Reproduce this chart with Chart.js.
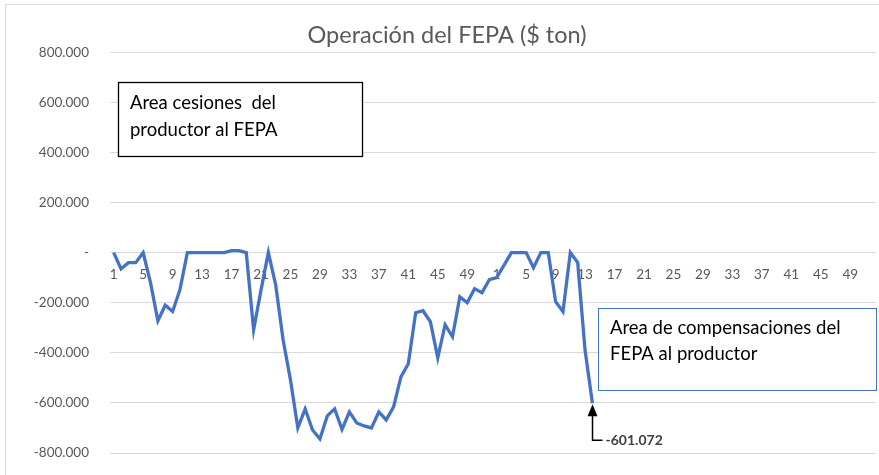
<!DOCTYPE html>
<html>
<head>
<meta charset="utf-8">
<script src="https://cdn.jsdelivr.net/npm/chart.js@4.4.1/dist/chart.umd.min.js"></script>
<style>
  html, body { margin: 0; padding: 0; background: #fff; }
  #wrap { width: 879px; height: 475px; position: relative; }
</style>
</head>
<body>
<div id="wrap"><canvas id="chart" width="879" height="475"></canvas></div>
<script>
// semanas del año, dos temporadas seguidas
const weeks = [1, 2, 3, 4, 5, 6, 7, 8, 9, 10, 11, 12, 13, 14, 15, 16, 17, 18, 19, 20, 21, 22, 23, 24, 25, 26,
  27, 28, 29, 30, 31, 32, 33, 34, 35, 36, 37, 38, 39, 40, 41, 42, 43, 44, 45, 46, 47, 48, 49, 50, 51, 52];
const labels = weeks.concat(weeks);

// operación del FEPA ($/ton), año 1
const fepaYear1 = [
  0, -65000, -40000, -40000, 0, -120000, -272000, -210000, -235000, -148000,
  0, 0, 0, 0, 0, 0, 8000, 8000, 0, -308000,
  -150000, 0, -130000, -348000, -508000, -700000, -624000, -708000, -744000, -652000,
  -624000, -706000, -636000, -680000, -692000, -700000, -636000, -668000, -616000, -496000,
  -444000, -240000, -232000, -276000, -420000, -288000, -336000, -176000, -200000, -144000,
  -160000, -108000
];
// año 2 (hasta la semana 14)
const fepaYear2 = [
  -100000, -50000, 0, 0, 0, -60000, 0, 0, -196000, -236000,
  0, -40000, -390000, -601072
];

const yTicks = [800000, 600000, 400000, 200000, 0, -200000, -400000, -600000, -800000];
const lastLabel = '-601.072';

const series = fepaYear1.concat(fepaYear2);
while (series.length < labels.length) series.push(null);

function fmt(v) {
  if (v === 0) return '-';
  const s = Math.abs(v).toString().replace(/\B(?=(\d{3})+(?!\d))/g, '.');
  return (v < 0 ? '-' : '') + s;
}

const FONT = 'Lato, "Open Sans", sans-serif';

// cuadros de texto, flecha y marco
const notes = {
  id: 'notes',
  beforeDraw(chart) {
    const ctx = chart.ctx;
    ctx.save();
    ctx.strokeStyle = '#d9d9d9';
    ctx.lineWidth = 1;
    ctx.strokeRect(5.5, 4.5, 900, 500);
    ctx.restore();
  },
  afterDatasetsDraw(chart) {
    const ctx = chart.ctx;
    const xs = chart.scales.x, ys = chart.scales.y;
    ctx.save();

    // cuadro 1
    ctx.fillStyle = '#fff';
    ctx.fillRect(118, 82, 244, 74);
    ctx.strokeStyle = '#000';
    ctx.lineWidth = 1.3;
    ctx.strokeRect(118.5, 82.5, 244, 74);
    ctx.fillStyle = '#000';
    ctx.font = '18.5px ' + FONT;
    ctx.textBaseline = 'middle';
    ctx.textAlign = 'left';
    ctx.fillText('Area cesiones  del', 130, 103);
    ctx.fillText('productor al FEPA', 130, 130);

    // cuadro 2
    ctx.fillStyle = '#fff';
    ctx.fillRect(598, 308, 280, 82);
    ctx.strokeStyle = '#4472C4';
    ctx.lineWidth = 1;
    ctx.strokeRect(598.5, 308.5, 278, 82);
    ctx.fillStyle = '#000';
    ctx.fillText('Area de compensaciones del', 610, 328);
    ctx.fillText('FEPA al productor', 610, 354);

    // flecha al último punto
    const idx = fepaYear1.length + fepaYear2.length - 1;
    const px = Math.round(xs.getPixelForValue(idx)) + 0.5;
    const py = ys.getPixelForValue(series[idx]);
    ctx.strokeStyle = '#000';
    ctx.lineWidth = 1.5;
    ctx.beginPath();
    ctx.moveTo(px, py + 10);
    ctx.lineTo(px, py + 37);
    ctx.lineTo(px + 10, py + 37);
    ctx.stroke();
    ctx.fillStyle = '#000';
    ctx.beginPath();
    ctx.moveTo(px, py + 1);
    ctx.lineTo(px - 5, py + 13);
    ctx.lineTo(px + 5, py + 13);
    ctx.closePath();
    ctx.fill();
    ctx.fillStyle = '#404040';
    ctx.font = 'bold 14px ' + FONT;
    ctx.fillText(lastLabel, px + 13, py + 37);
    ctx.restore();
  }
};

new Chart(document.getElementById('chart'), {
  type: 'line',
  data: {
    labels: labels,
    datasets: [{
      label: 'FEPA',
      data: series,
      borderColor: '#4472C4',
      borderWidth: 3.3,
      pointRadius: 0,
      tension: 0,
      fill: false,
      spanGaps: false
    }]
  },
  options: {
    responsive: false,
    animation: false,
    layout: { padding: { left: 18, right: 3, top: 0, bottom: 22 } },
    plugins: {
      legend: { display: false },
      tooltip: { enabled: false },
      title: {
        display: true,
        text: 'Operación del FEPA ($ ton)',
        color: '#595959',
        font: { family: FONT, size: 23.5, weight: 'normal' },
        padding: { top: 21, bottom: 3 }
      }
    },
    scales: {
      x: {
        position: { y: 0 },
        offset: true,
        afterFit: function (s) {
          s.height = 0;
          s.paddingTop = 0;
          s.paddingBottom = 0;
        },
        grid: { display: false },
        border: { display: false },
        ticks: {
          autoSkip: false,
          maxRotation: 0,
          padding: 6,
          color: '#595959',
          font: { family: FONT, size: 13.5 },
          callback: function (v, i) { return i % 4 === 0 ? labels[i] : ''; }
        }
      },
      y: {
        min: -800000,
        max: 800000,
        afterFit: function (s) {
          s.width = 92;
          s.paddingTop = 0;
          s.paddingBottom = 0;
        },
        afterBuildTicks: function (s) { s.ticks = yTicks.map(v => ({ value: v })); },
        grid: { color: '#d9d9d9', drawTicks: false },
        border: { display: false },
        ticks: {
          padding: 21,
          color: '#595959',
          font: { family: FONT, size: 13.5 },
          callback: function (v) { return fmt(v); }
        }
      }
    }
  },
  plugins: [notes]
});
</script>
</body>
</html>
